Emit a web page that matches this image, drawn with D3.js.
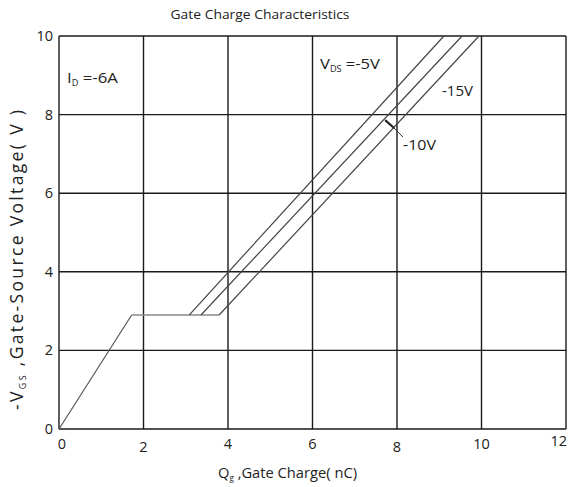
<!DOCTYPE html>
<html><head><meta charset="utf-8">
<script src="https://cdn.jsdelivr.net/npm/d3@7"></script>
<style>
html,body{margin:0;padding:0;background:#fff;}
svg{display:block;}
</style></head>
<body>
<script>
// ---- data ----
const xTicks = [0, 2, 4, 6, 8, 10, 12];
const yTicks = [0, 2, 4, 6, 8, 10];
const rampQ = [0, 1.72];
const rampV = [0, 2.9];
const seriesNames = ["-5V", "-10V", "-15V"];
const plateauEndQ = [3.08, 3.36, 3.79];
const plateauV = 2.9;
const topQ = [9.11, 9.54, 9.94];
const topV = [10, 10, 10];

const W = 569, H = 487;
const svg = d3.select("body").append("svg").attr("width", W).attr("height", H);
const x = d3.scaleLinear().domain([0, 12]).range([59, 566]);
const y = d3.scaleLinear().domain([0, 10]).range([429, 36]);

const grid = "#1a1a1a";
svg.append("g").selectAll("line").data(xTicks).join("line")
  .attr("x1", d => x(d)).attr("x2", d => x(d)).attr("y1", y(0)).attr("y2", y(10))
  .attr("stroke", grid).attr("stroke-width", 1.4);
svg.append("g").selectAll("line").data(yTicks).join("line")
  .attr("x1", x(0)).attr("x2", x(12)).attr("y1", d => y(d)).attr("y2", d => y(d))
  .attr("stroke", grid).attr("stroke-width", 1.4);

const font = "'Open Sans', 'Noto Sans', sans-serif";
// tick labels
svg.append("g").selectAll("text").data(xTicks).join("text")
  .attr("x", d => d === 12 ? 567 : x(d) + (d === 0 ? 3 : 0))
  .attr("y", d => (d === 2 || d === 8) ? 452 : (d === 12 ? 446 : 449))
  .attr("text-anchor", d => d === 12 ? "end" : "middle")
  .attr("font-family", font).attr("font-size", 14.5)
  .attr("fill", "#222").text(d => d);
svg.append("g").selectAll("text").data(yTicks).join("text")
  .attr("x", 53).attr("y", d => y(d) + 5)
  .attr("text-anchor", "end").attr("font-family", font).attr("font-size", 14.5)
  .attr("fill", "#222").text(d => d);

// curves
const line = d3.line().x(d => x(d[0])).y(d => y(d[1]));
svg.append("path").attr("d", line([[rampQ[0], rampV[0]], [rampQ[1], rampV[1]]]))
  .attr("fill", "none").attr("stroke", "#555").attr("stroke-width", 1.2);
svg.append("path").attr("d", line([[rampQ[1], plateauV], [d3.max(plateauEndQ), plateauV]]))
  .attr("fill", "none").attr("stroke", "#888").attr("stroke-width", 1.6);
seriesNames.forEach((n, i) => {
  svg.append("path").attr("d", line([[plateauEndQ[i], plateauV], [topQ[i], topV[i]]]))
    .attr("fill", "none").attr("stroke", "#444").attr("stroke-width", 1.2);
});

// annotations
function subText(xp, yp, parts, len, size) {
  const t = svg.append("text").attr("x", xp).attr("y", yp).attr("font-family", font)
    .attr("font-size", size).attr("fill", "#222");
  if (len) t.attr("textLength", len).attr("lengthAdjust", "spacingAndGlyphs");
  t.append("tspan").text(parts[0]);
  t.append("tspan").attr("font-size", size * 0.55).attr("dy", 3).text(parts[1]);
  t.append("tspan").attr("dy", -3).text(parts[2]);
  return t;
}
subText(67, 83, ["I", "D", " =-6A"], 51, 15);
subText(320, 69, ["V", "DS", " =-5V"], 60, 15);
svg.append("text").attr("x", 442).attr("y", 96).attr("font-family", font)
  .attr("font-size", 15).attr("fill", "#222")
  .attr("textLength", 31).attr("lengthAdjust", "spacingAndGlyphs").text("-15V");
svg.append("line").attr("x1", x(7.72)).attr("y1", y(7.86)).attr("x2", x(7.93)).attr("y2", y(7.66))
  .attr("stroke", "#222").attr("stroke-width", 2.2);
svg.append("line").attr("x1", x(7.9)).attr("y1", y(7.69)).attr("x2", x(8.14)).attr("y2", y(7.43))
  .attr("stroke", "#333").attr("stroke-width", 1);
svg.append("text").attr("x", 403).attr("y", 150).attr("font-family", font)
  .attr("font-size", 15).attr("fill", "#222")
  .attr("textLength", 33).attr("lengthAdjust", "spacingAndGlyphs").text("-10V");

// title
svg.append("text").attr("x", 260).attr("y", 19).attr("text-anchor", "middle")
  .attr("font-family", font).attr("font-size", 13).attr("fill", "#222")
  .attr("textLength", 179).attr("lengthAdjust", "spacingAndGlyphs")
  .text("Gate Charge Characteristics");

// x axis label
subText(218, 478, ["Q", "g", " ,Gate Charge( nC)"], 139, 15);

// y axis label
const yl = svg.append("text").attr("transform", "translate(23,260) rotate(-90)")
  .attr("text-anchor", "middle").attr("font-family", font).attr("font-size", 17.5)
  .attr("fill", "#222").attr("textLength", 300).attr("lengthAdjust", "spacing");
yl.append("tspan").text("-V");
yl.append("tspan").attr("font-size", 9).attr("dy", 3).text("GS");
yl.append("tspan").attr("dy", -3).text(" ,Gate-Source Voltage( V )");
</script>
</body></html>
